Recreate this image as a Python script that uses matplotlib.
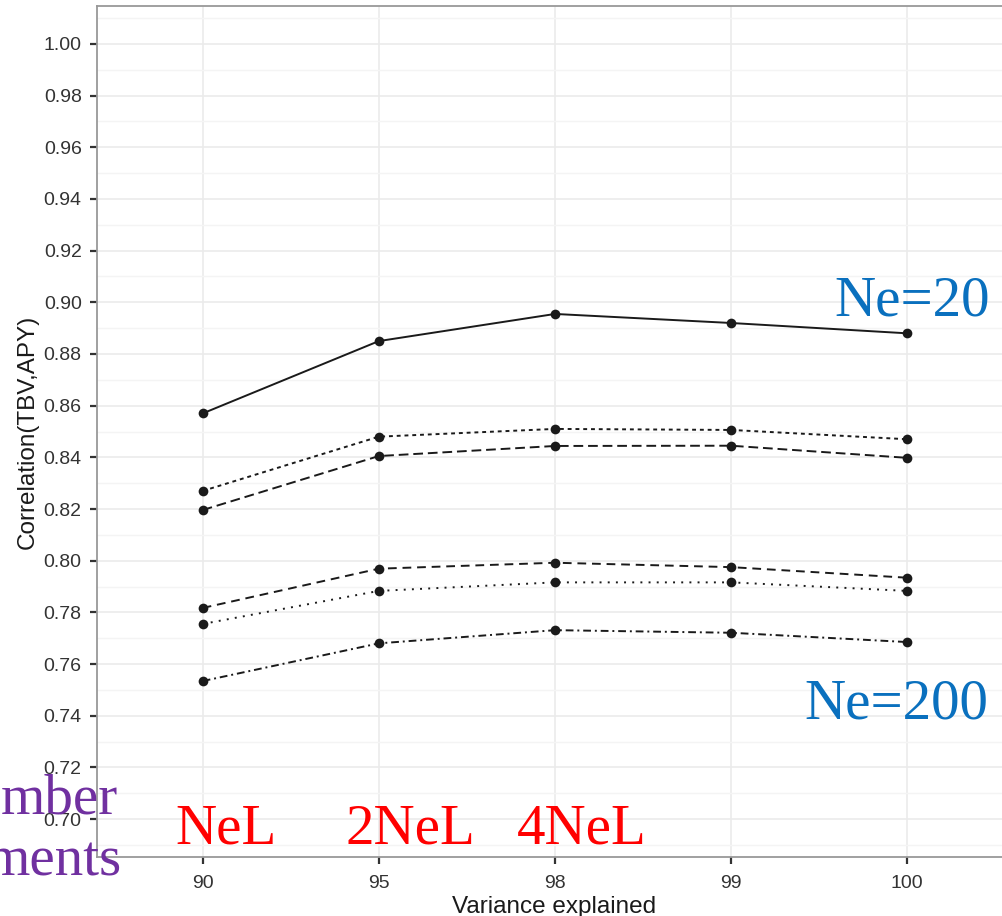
import matplotlib
matplotlib.use("Agg")
import matplotlib.pyplot as plt
from matplotlib.ticker import MultipleLocator

# data
variance = ["90", "95", "98", "99", "100"]
solid_vals = [0.857, 0.885, 0.8955, 0.892, 0.888]
short_dash_vals = [0.827, 0.848, 0.851, 0.8506, 0.847]
long_dash_vals = [0.8196, 0.8405, 0.8444, 0.8445, 0.8398]
long_dash2_vals = [0.7817, 0.7969, 0.7992, 0.7975, 0.7934]
dotted_vals = [0.7755, 0.7883, 0.7916, 0.7916, 0.7883]
dotdash_vals = [0.7534, 0.768, 0.7731, 0.7721, 0.7685]

series = [
    (solid_vals, "-"),
    (short_dash_vals, (0, (2, 2))),
    (long_dash_vals, (0, (5, 2.5))),
    (long_dash2_vals, (0, (4.5, 3))),
    (dotted_vals, (0, (1.0, 3.2))),
    (dotdash_vals, (0, (4, 2, 1, 2))),
]

Y_LABEL = "Correlation(TBV,APY)"
X_LABEL = "Variance explained"
BLUE = "#0a70be"
RED = "#ff0000"
PURPLE = "#7030a0"

plt.rcParams['font.family'] = ['Liberation Sans', 'DejaVu Sans']

fig = plt.figure(figsize=(10.02, 9.16), dpi=100)
ax = fig.add_axes([97 / 1002, 59 / 916, 916 / 1002, 851 / 916])

xs = list(range(1, len(variance) + 1))
for vals, ls in series:
    ax.plot(xs, vals, linestyle=ls, color="#1a1a1a", lw=1.4,
            marker="o", markersize=7, markeredgewidth=0, zorder=3)

ax.set_xlim(0.4, 5.6)
ax.set_ylim(0.6853, 1.0147)
ax.set_xticks(xs)
ax.set_xticklabels(variance)
ax.yaxis.set_major_locator(MultipleLocator(0.02))
ax.yaxis.set_minor_locator(MultipleLocator(0.01))
ax.yaxis.set_major_formatter(plt.FuncFormatter(lambda v, p: f"{v:.2f}"))

ax.grid(which="major", color="#ebebeb", lw=1.2)
ax.grid(which="minor", axis="y", color="#f4f4f4", lw=1.0)
ax.set_axisbelow(True)
for s in ax.spines.values():
    s.set_color("#999999")
    s.set_linewidth(1.3)

ax.tick_params(which="major", length=5, width=1.6, color="#333333",
               labelsize=14, labelcolor="#333333")
ax.tick_params(axis="y", which="major", pad=6)
ax.tick_params(axis="x", which="major", pad=8)
ax.tick_params(which="minor", length=0)
ax.set_ylabel(Y_LABEL, fontsize=17.5, color="#1a1a1a")
ax.set_xlabel(X_LABEL, fontsize=17.5, color="#1a1a1a")
ax.xaxis.set_label_coords(0.4995, (857 - 907) / 851)
ax.xaxis.label.set_va("center")
ax.yaxis.set_label_coords((28 - 97) / 916, 0.5)
ax.yaxis.label.set_va("center")

serif = ['Liberation Serif', 'DejaVu Serif']
ax.text(5.03, 0.895, "Ne=20", color=BLUE, fontsize=41, family=serif,
        ha="center", va="baseline")
ax.text(4.94, 0.739, "Ne=200", color=BLUE, fontsize=41, family=serif,
        ha="center", va="baseline")
for xpos, lab in [(1.13, "NeL"), (2.18, "2NeL"), (3.15, "4NeL")]:
    ax.text(xpos, 0.6907, lab, color=RED, fontsize=41, family=serif,
            ha="center", va="baseline")

fig.text(118 / 1002, 1 - 813 / 916, "mber", color=PURPLE, fontsize=41,
         family=serif, ha="right", va="baseline")
fig.text(122 / 1002, 1 - 875 / 916, "ments", color=PURPLE, fontsize=41,
         family=serif, ha="right", va="baseline")

fig.savefig("out.png", dpi=100)
